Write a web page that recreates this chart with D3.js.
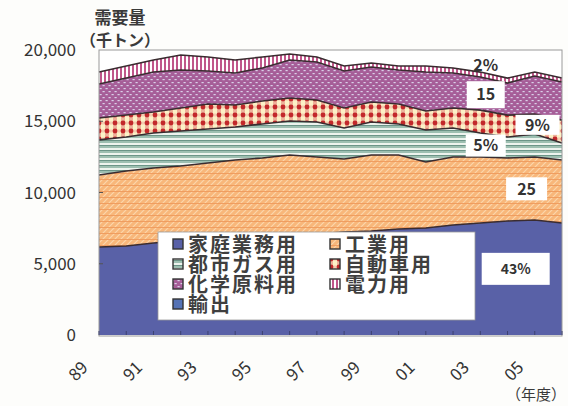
<!DOCTYPE html>
<html><head><meta charset="utf-8">
<script src="https://cdn.jsdelivr.net/npm/d3@7"></script>
<style>
html,body{margin:0;padding:0;background:#fdfdfb;}
svg{display:block;font-family:"Noto Sans CJK JP","Noto Sans",sans-serif;}
</style></head>
<body><svg id="c" width="568" height="406"></svg>
<script>
// ---- data (thousand tons) ----
const years = [1989,1990,1991,1992,1993,1994,1995,1996,1997,1998,1999,2000,2001,2002,2003,2004,2005,2006];
const home     = [6180,6250,6460,6600,6740,6810,6950,7020,7090,7230,7300,7440,7510,7720,7860,8000,8070,7860];
const industry = [5050,5260,5260,5260,5330,5470,5470,5610,5400,5120,5330,5190,4630,4770,4630,4420,4420,4420];
const cityGas  = [2460,2390,2460,2460,2390,2320,2390,2390,2460,2180,2320,2180,2250,2040,1680,1470,1610,1190];
const auto     = [1540,1540,1470,1610,1750,1540,1610,1610,1540,1400,1400,1400,1330,1400,1610,1540,1400,1610];
const chemical = [2390,2600,2810,2670,2320,2250,2320,2670,2670,2600,2460,2390,2740,2460,2320,2250,2670,2670];
const power    = [840,840,840,1050,980,910,770,420,350,350,280,280,420,350,350,350,280,280];
const yTicks = [0,5000,10000,15000,20000];
const xTickYears = [1989,1991,1993,1995,1997,1999,2001,2003,2005];
const xTickLabels = ["89","91","93","95","97","99","01","03","05"];
const seriesNames = ["家庭業務用","工業用","都市ガス用","自動車用","化学原料用","電力用","輸出"];
const shareLabels = [
  {key:"電力用", text:"2%"},
  {key:"化学原料用", text:"15"},
  {key:"自動車用", text:"9%"},
  {key:"都市ガス用", text:"5%"},
  {key:"工業用", text:"25"},
  {key:"家庭業務用", text:"43%"}
];

const svg = d3.select("#c");
const x0=99,x1=562,yTop=50,yBot=335;
const x = d3.scaleLinear().domain([1989,2006]).range([x0,x1]);
const y = d3.scaleLinear().domain([0,20000]).range([yBot,yTop]);

// ---- patterns ----
const defs = svg.append("defs");
function pat(id,w,h,fn){const p=defs.append("pattern").attr("id",id).attr("width",w).attr("height",h).attr("patternUnits","userSpaceOnUse");fn(p);}
pat("pOrange",6,6,p=>{
  p.append("rect").attr("width",6).attr("height",6).attr("fill","#f8b77a");
  p.append("path").attr("d","M0,6L6,0M-1.5,1.5L1.5,-1.5M4.5,7.5L7.5,4.5").attr("stroke","#fcd6ac").attr("stroke-width",1.2);
  p.append("rect").attr("y",5).attr("width",6).attr("height",0.9).attr("fill","#ef9a5c");
});
pat("pGreen",6,5,p=>{
  p.append("rect").attr("width",6).attr("height",5).attr("fill","#edf3ee");
  p.append("rect").attr("y",0).attr("width",6).attr("height",3).attr("fill","#9dbfb1");
  p.append("rect").attr("y",0).attr("width",6).attr("height",0.9).attr("fill","#658f82");
});
pat("pRed",8,8,p=>{
  p.append("rect").attr("width",8).attr("height",8).attr("fill","#fcf2c6");
  p.append("rect").attr("x",1).attr("width",4).attr("height",8).attr("fill","#eeb19a");
  p.append("rect").attr("y",1.5).attr("width",8).attr("height",3).attr("fill","#f4cdb0");
  p.append("circle").attr("cx",3).attr("cy",3).attr("r",2.4).attr("fill","#c2282a");
});
pat("pPurple",6,6,p=>{
  p.append("rect").attr("width",6).attr("height",6).attr("fill","#a65e98");
  p.append("rect").attr("x",0.5).attr("y",1).attr("width",2.2).attr("height",1.2).attr("fill","#d9cfe8");
  p.append("rect").attr("x",3.5).attr("y",4).attr("width",2.2).attr("height",1.2).attr("fill","#d9cfe8");
});
pat("pPower",4,4,p=>{
  p.append("rect").attr("width",4).attr("height",4).attr("fill","#fff");
  p.append("rect").attr("width",2).attr("height",4).attr("fill","#c0568a");
});
const fills = {"家庭業務用":"#5961a7","工業用":"url(#pOrange)","都市ガス用":"url(#pGreen)","自動車用":"url(#pRed)","化学原料用":"url(#pPurple)","電力用":"url(#pPower)","輸出":"#5673b5"};

// ---- table for stack ----
const cols = {"家庭業務用":home,"工業用":industry,"都市ガス用":cityGas,"自動車用":auto,"化学原料用":chemical,"電力用":power};
const keys = Object.keys(cols);
const table = years.map((yr,i)=>{const o={year:yr};keys.forEach(k=>o[k]=cols[k][i]);return o;});
const stacked = d3.stack().keys(keys)(table);

svg.append("rect").attr("x",x0).attr("y",yTop).attr("width",x1-x0).attr("height",yBot-yTop+1).attr("fill","#fff");

const area = d3.area().x(d=>x(d.data.year)).y0(d=>y(d[0])).y1(d=>y(d[1]));
const topLine = d3.line().x(d=>x(d.data.year)).y(d=>y(d[1]));
const g = svg.append("g");
g.selectAll("path.a").data(stacked).join("path").attr("class","a")
  .attr("d",area).attr("fill",d=>fills[d.key]).attr("stroke","none");
g.selectAll("path.l").data(stacked).join("path").attr("class","l")
  .attr("d",topLine).attr("fill","none").attr("stroke","#3a2c30").attr("stroke-width",1.6);

svg.append("rect").attr("x",x0).attr("y",yTop).attr("width",x1-x0).attr("height",yBot-yTop+1)
  .attr("fill","none").attr("stroke","#9a9a9a").attr("stroke-width",1);

svg.append("g").selectAll("line").data(years).join("line")
  .attr("x1",d=>x(d)).attr("x2",d=>x(d)).attr("y1",yBot).attr("y2",yBot-4)
  .attr("stroke","#3d4270").attr("stroke-width",1);

svg.append("g").selectAll("text").data(yTicks).join("text")
  .attr("x",76).attr("y",d=>y(d)).attr("dy","0.36em").attr("text-anchor","end")
  .attr("font-size",17).attr("fill","#333").text(d=>d3.format(",")(d));
svg.append("g").selectAll("line").data(yTicks.slice(1,-1)).join("line")
  .attr("x1",x0).attr("x2",x0+4).attr("y1",d=>y(d)).attr("y2",d=>y(d)).attr("stroke","#555");

svg.append("g").selectAll("text").data(xTickYears).join("text")
  .attr("transform",d=>`translate(${x(d)-21},371) rotate(-45)`)
  .attr("text-anchor","middle").attr("dy","0.36em")
  .attr("font-size",17).attr("fill","#333").text((d,i)=>xTickLabels[i]);

svg.append("text").attr("x",120).attr("y",24).attr("text-anchor","middle").attr("font-size",17).attr("font-weight","bold").attr("fill","#3a3a3a").text("需要量");
svg.append("text").attr("x",120).attr("y",46).attr("text-anchor","middle").attr("font-size",16).attr("font-weight","bold").attr("fill","#3a3a3a").text("（千トン）");
svg.append("text").attr("x",566).attr("y",400).attr("text-anchor","end").attr("font-size",15).attr("fill","#3a3a3a").text("（年度）");

const labelYear = {"電力用":2003.2,"化学原料用":2003.2,"自動車用":2005.1,"都市ガス用":2003.2,"工業用":2004.7,"家庭業務用":2004.3};
const boxSize = {"2%":[26,15],"15":[38,27],"9%":[44,20],"5%":[40,22],"25":[41,23],"43%":[68,32]};
function interp(layer,yr){
  const i=Math.min(years.length-2,Math.floor(yr-1989));const t=yr-years[i];
  const a=layer[i],b=layer[i+1];
  return [a[0]+(b[0]-a[0])*t,a[1]+(b[1]-a[1])*t];
}
const lg = svg.append("g");
shareLabels.forEach(s=>{
  const layer = stacked.find(l=>l.key===s.key);
  const yr = labelYear[s.key];
  const v = interp(layer,yr);
  let cy = s.key==="電力用" ? y(v[1])-8 : s.key==="家庭業務用" ? y((v[0]+v[1])/2)-9 : y((v[0]+v[1])/2);
  const cx = x(yr);
  const [bw,bh]=boxSize[s.text];
  if(s.key!=="電力用") lg.append("rect").attr("x",cx-bw/2).attr("y",cy-bh/2).attr("width",bw).attr("height",bh).attr("fill","#fff");
  lg.append("text").attr("x",cx).attr("y",cy).attr("dy","0.36em").attr("text-anchor","middle")
    .attr("font-size",s.text==="43%"?14:16).attr("font-weight","bold").attr("fill","#333").text(s.text);
});

// legend
const leg = svg.append("g");
leg.append("rect").attr("x",158).attr("y",232).attr("width",317).attr("height",88).attr("fill","#fff").attr("stroke","#999").attr("stroke-width",0.8);
const colX=[173,330], rowY=[244,264,284,304];
seriesNames.forEach((k,i)=>{
  const cx=colX[i%2], cy=rowY[Math.floor(i/2)];
  leg.append("rect").attr("x",cx).attr("y",cy-5).attr("width",10).attr("height",10).attr("fill",fills[k]).attr("stroke","#333").attr("stroke-width",1.4);
  leg.append("text").attr("x",cx+15).attr("y",cy+1).attr("dy","0.36em").attr("font-size",20).attr("letter-spacing",2).attr("font-weight","bold").attr("fill","#3f3f3f").text(k);
});
</script></body></html>
